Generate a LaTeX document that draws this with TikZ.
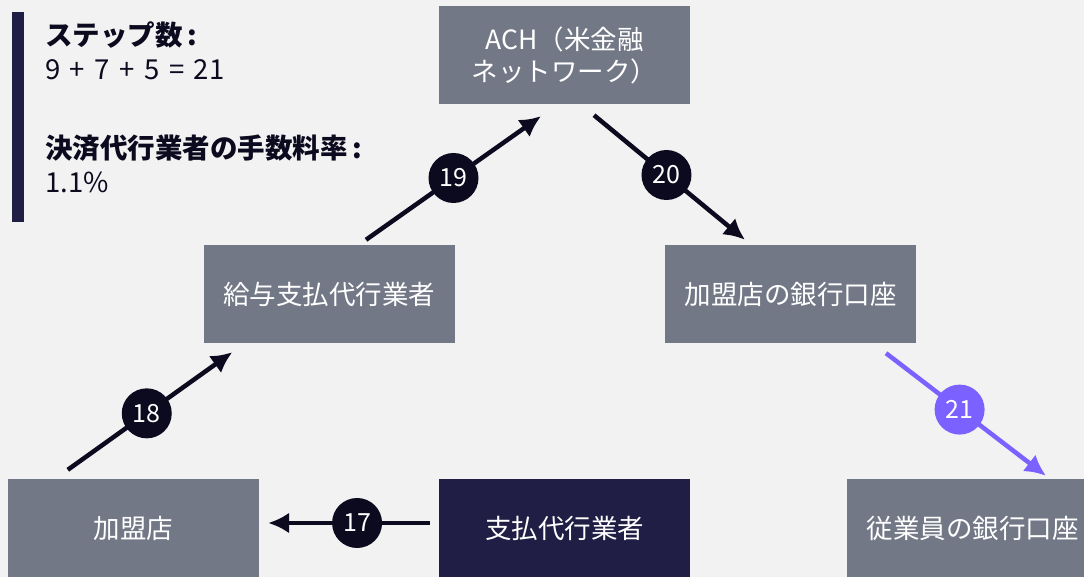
\documentclass[tikz,border=0pt]{standalone}
\usepackage{fontspec}
\setmainfont{Noto Sans CJK JP}
\usetikzlibrary{arrows.meta}
\definecolor{bgcol}{HTML}{F2F2F2}
\definecolor{boxgray}{HTML}{737887}
\definecolor{boxnavy}{HTML}{201E45}
\definecolor{ink}{HTML}{0C0A1E}
\definecolor{violet}{HTML}{7B61FF}
\newcommand{\gap}{\hspace{9.5pt}}
\tikzset{
  box/.style = {fill=boxgray, text=white, minimum width=251pt, minimum height=98pt,
                inner sep=0pt, align=center, font=\fontsize{26.5}{32}\selectfont},
  flow/.style = {draw=ink, line width=4.5pt, -{Latex[length=21pt,width=21pt]}},
  num/.style = {circle, fill=ink, text=white, minimum size=50pt, inner sep=0pt,
                font=\fontsize{25}{25}\selectfont},
  head/.style = {anchor=west, inner sep=0pt, text=ink, font=\bfseries\fontsize{27.5}{27.5}\selectfont},
  val/.style = {anchor=west, inner sep=0pt, text=ink, font=\fontsize{27.5}{27.5}\selectfont}
}
\begin{document}
\begin{tikzpicture}[x=1pt, y=1pt]
  \useasboundingbox[fill=bgcol] (0,0) rectangle (1084,577);
  % legend
  \fill[boxnavy] (12,355) rectangle (24,565);
  \node[head] (steps) at (45,542) {ステップ数\,:};
  \node[val] (stepsum) at (45,507) {9\gap+\gap7\gap+\gap5\gap=\gap21};
  \node[head] (fee) at (45,429) {決済代行業者の手数料率\,:};
  \node[val] (feeval) at (45,395) {1.1\%};
  % boxes
  \node[box] (ach) at (564.5,522) {ACH（米金融\\ネットワーク）};
  \node[box] (payroll) at (329,282.5) {給与支払代行業者};
  \node[box] (mbank) at (790.5,282.5) {加盟店の銀行口座};
  \node[box] (merchant) at (133.5,48.5) {加盟店};
  \node[box, fill=boxnavy] (payproc) at (564.5,48.5) {支払代行業者};
  \node[box] (ebank) at (972.5,49) {従業員の銀行口座};
  % steps
  \draw[flow] ([xshift=-9pt,yshift=5.5pt]payproc.west) -- ([xshift=9pt,yshift=5.5pt]merchant.east)
    node[num, pos=.45] (n17) {17};
  \draw[flow] ([xshift=60pt,yshift=9.5pt]merchant.north west) -- ([xshift=29pt,yshift=-8.5pt]payroll.south west)
    node[num, pos=.48] (n18) {18};
  \draw[flow] ([xshift=37pt,yshift=5.5pt]payroll.north) -- ([xshift=-23.5pt,yshift=-12pt]ach.south)
    node[num, pos=.5] (n19) {19};
  \draw[flow] ([xshift=29.5pt,yshift=-11pt]ach.south) -- ([xshift=-45.5pt,yshift=5.5pt]mbank.north)
    node[num, pos=.48] (n20) {20};
  \draw[flow, draw=violet] ([xshift=95.5pt,yshift=-9.5pt]mbank.south) -- ([xshift=73.5pt,yshift=3pt]ebank.north)
    node[num, fill=violet, pos=.46] (n21) {21};
\end{tikzpicture}
\end{document}
